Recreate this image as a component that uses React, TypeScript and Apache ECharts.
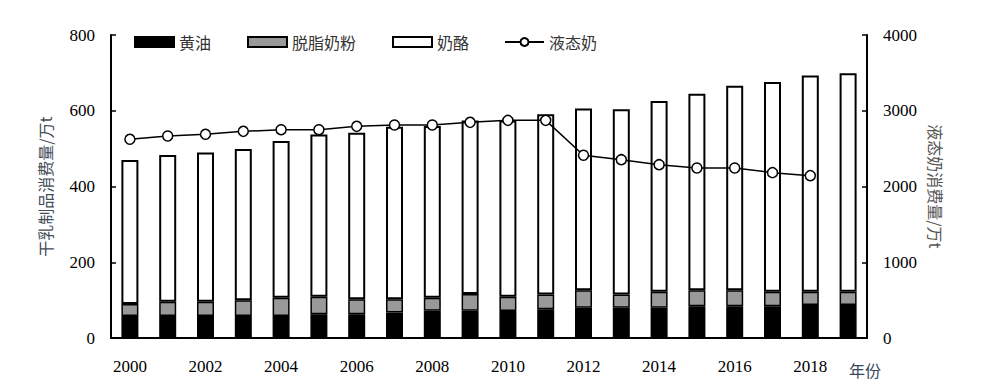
import React, { useEffect, useRef } from "react";
import * as echarts from "echarts";

const years = ["2000","2001","2002","2003","2004","2005","2006","2007","2008","2009","2010","2011","2012","2013","2014","2015","2016","2017","2018","2019"];
const butter = [58,58,58,58,58,63,63,67,72,72,71,76,80,80,80,84,84,84,87,87];
const skimMilkPowder = [32,38,38,42,48,46,39,35,34,44,38,39,46,35,42,42,42,38,35,35];
const cheese = [380,387,394,399,414,428,440,456,454,458,465,476,480,489,504,519,540,554,571,577];
const liquidMilk = [2623,2667,2689,2728,2750,2750,2794,2812,2812,2847,2873,2873,2412,2354,2288,2244,2244,2183,2143,null];

const SERIF = "Times New Roman, Liberation Serif, serif";
const CJK = "Noto Sans CJK SC";

export default function App() {
  const ref = useRef<HTMLDivElement>(null);
  useEffect(() => {
    document.body.style.margin = "0";
    const chart = echarts.init(ref.current!, null, { renderer: "svg" });
    const legendText = { fontFamily: CJK, fontSize: 16, color: "#333" };
    const mkLegend = (name: string, left: number, icon?: string) => ({
      data: [icon ? { name, icon } : name],
      left,
      top: 34,
      itemWidth: 39,
      itemHeight: 10,
      itemGap: 5,
      padding: 0,
      textStyle: legendText,
    });
    chart.setOption({
      animation: false,
      backgroundColor: "#fff",
      grid: { left: 111, right: 133, top: 35, bottom: 46 },
      legend: [
        mkLegend("黄油", 134, "rect"),
        mkLegend("脱脂奶粉", 247, "rect"),
        mkLegend("奶酪", 392, "rect"),
        mkLegend("液态奶", 504),
      ],
      xAxis: {
        type: "category",
        data: years,
        boundaryGap: true,
        axisLine: { lineStyle: { color: "#000", width: 2 } },
        axisTick: { inside: true, length: 5, interval: 0, lineStyle: { color: "#000", width: 1.5 } },
        axisLabel: { interval: 1, margin: 20, fontFamily: SERIF, fontSize: 17, color: "#000" },
        splitLine: { show: false },
      },
      yAxis: [
        {
          type: "value",
          min: 0,
          max: 800,
          interval: 200,
          name: "干乳制品消费量/万t",
          nameLocation: "middle",
          nameGap: 58,
          nameTextStyle: { fontFamily: CJK, fontSize: 16, color: "#444c58" },
          axisLine: { show: true, lineStyle: { color: "#000", width: 2 } },
          axisTick: { show: true, inside: true, length: 5, lineStyle: { color: "#000", width: 1.5 } },
          axisLabel: { margin: 16, fontFamily: SERIF, fontSize: 17, color: "#000", formatter: (v: number) => String(v) },
          splitLine: { show: false },
        },
        {
          type: "value",
          min: 0,
          max: 4000,
          interval: 1000,
          position: "right",
          name: "液态奶消费量/万t",
          nameLocation: "middle",
          nameGap: 49,
          nameRotate: -90,
          nameTextStyle: { fontFamily: CJK, fontSize: 16, color: "#555" },
          axisLine: { show: true, lineStyle: { color: "#000", width: 2 } },
          axisTick: { show: true, inside: true, length: 5, lineStyle: { color: "#000", width: 1.5 } },
          axisLabel: { margin: 16, fontFamily: SERIF, fontSize: 17, color: "#000", formatter: (v: number) => String(v) },
          splitLine: { show: false },
        },
      ],
      series: [
        {
          name: "黄油",
          type: "bar",
          stack: "dairy",
          barWidth: 17,
          data: butter,
          itemStyle: { color: "#000", borderColor: "#000", borderWidth: 1.5 },
        },
        {
          name: "脱脂奶粉",
          type: "bar",
          stack: "dairy",
          barWidth: 17,
          data: skimMilkPowder,
          itemStyle: { color: "#999", borderColor: "#000", borderWidth: 1.5 },
        },
        {
          name: "奶酪",
          type: "bar",
          stack: "dairy",
          barWidth: 17,
          data: cheese,
          itemStyle: { color: "#fff", borderColor: "#000", borderWidth: 2 },
        },
        {
          name: "液态奶",
          type: "line",
          yAxisIndex: 1,
          data: liquidMilk,
          symbol: "circle",
          symbolSize: 10,
          showAllSymbol: true,
          z: 5,
          lineStyle: { color: "#000", width: 1.5 },
          itemStyle: { color: "#fff", borderColor: "#000", borderWidth: 1.5 },
        },
      ],
      graphic: [
        {
          type: "text",
          left: 849,
          top: 362,
          style: { text: "年份", fontFamily: CJK, fontSize: 16, fill: "#3a4660" },
        },
      ],
    });
    return () => chart.dispose();
  }, []);
  return <div ref={ref} style={{ width: 1000, height: 384 }} />;
}
